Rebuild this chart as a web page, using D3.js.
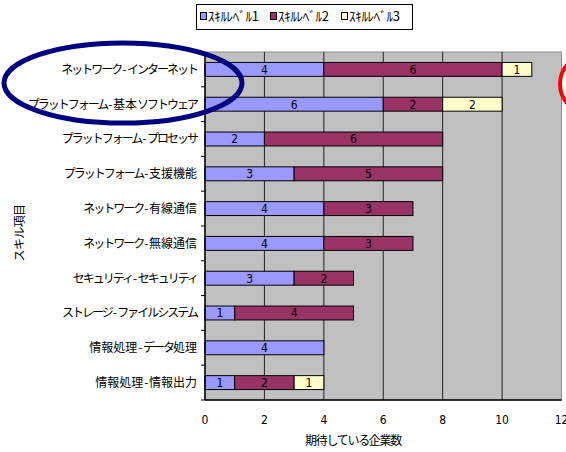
<!DOCTYPE html>
<html>
<head>
<meta charset="utf-8">
<script src="https://cdn.jsdelivr.net/npm/d3@7"></script>
<style>
  html, body { margin: 0; padding: 0; background: #fff; }
  svg { display: block; }
  .jp { font-family: "Noto Sans CJK JP", "Noto Sans", sans-serif; }
  .num { font-family: "Liberation Sans Narrow", "DejaVu Sans Condensed", "Liberation Sans", sans-serif; }
</style>
</head>
<body>
<svg id="chart" width="566" height="452"></svg>
<script>
// Skill items (top to bottom) and number of companies per skill level
const categories = [
  "ネットワーク-インターネット",
  "プラットフォーム-基本ソフトウェア",
  "プラットフォーム-プロセッサ",
  "プラットフォーム-支援機能",
  "ネットワーク-有線通信",
  "ネットワーク-無線通信",
  "セキュリティ-セキュリティ",
  "ストレージ-ファイルシステム",
  "情報処理-データ処理",
  "情報処理-情報出力"
];
const level1 = [4, 6, 2, 3, 4, 4, 3, 1, 4, 1];
const level2 = [6, 2, 6, 5, 3, 3, 2, 4, 0, 2];
const level3 = [1, 2, 0, 0, 0, 0, 0, 0, 0, 1];
const seriesNames = ["ｽｷﾙﾚﾍﾞﾙ1", "ｽｷﾙﾚﾍﾞﾙ2", "ｽｷﾙﾚﾍﾞﾙ3"];
const seriesColors = ["#9999ff", "#993366", "#ffffcc"];
const xTicks = [0, 2, 4, 6, 8, 10, 12];
const xTitle = "期待している企業数";
const yTitle = "スキル項目";

const svg = d3.select("#chart");
const plot = { left: 205, right: 561.5, top: 52, bottom: 400 };

const x = d3.scaleLinear().domain([0, 12]).range([plot.left, plot.right]);
const y = d3.scaleBand().domain(categories).range([plot.top, plot.bottom])
  .paddingInner(0.6).paddingOuter(0.3);

// plot background
svg.append("rect")
  .attr("x", plot.left).attr("y", plot.top)
  .attr("width", plot.right - plot.left).attr("height", plot.bottom - plot.top)
  .attr("fill", "#c0c0c0").attr("stroke", "#8c8c8c").attr("stroke-width", 1);

// vertical gridlines
svg.append("g").selectAll("line").data(xTicks.filter(t => t > 0 && t < 12)).join("line")
  .attr("x1", d => x(d)).attr("x2", d => x(d))
  .attr("y1", plot.top).attr("y2", plot.bottom)
  .attr("stroke", "#222").attr("stroke-width", 1);

// stacked data
const rows = categories.map((c, i) => ({ cat: c, l1: level1[i], l2: level2[i], l3: level3[i] }));
const stack = d3.stack().keys(["l1", "l2", "l3"])(rows);

stack.forEach((layer, si) => {
  const g = svg.append("g");
  layer.forEach(seg => {
    const v = seg[1] - seg[0];
    if (v <= 0) return;
    const yy = y(seg.data.cat);
    g.append("rect")
      .attr("x", x(seg[0])).attr("y", yy)
      .attr("width", x(seg[1]) - x(seg[0])).attr("height", y.bandwidth())
      .attr("fill", seriesColors[si]).attr("stroke", "#000").attr("stroke-width", 1);
    g.append("text").attr("class", "num")
      .attr("x", (x(seg[0]) + x(seg[1])) / 2).attr("y", yy + y.bandwidth() / 2)
      .attr("dy", "0.36em").attr("text-anchor", "middle")
      .attr("font-size", 12).attr("fill", "#000")
      .text(v);
  });
});

// axes lines
svg.append("line").attr("x1", plot.left).attr("x2", plot.left)
  .attr("y1", plot.top).attr("y2", plot.bottom).attr("stroke", "#000").attr("stroke-width", 1.5);
svg.append("line").attr("x1", plot.left).attr("x2", plot.right)
  .attr("y1", plot.bottom).attr("y2", plot.bottom).attr("stroke", "#000").attr("stroke-width", 1.5);

// category boundary ticks on the y axis
const step = y.step();
const bounds = d3.range(categories.length + 1).map(k => plot.top + k * step);
svg.append("g").selectAll("line").data(bounds).join("line")
  .attr("x1", plot.left - 4).attr("x2", plot.left)
  .attr("y1", d => d).attr("y2", d => d)
  .attr("stroke", "#000").attr("stroke-width", 1);

// category labels: kana set tighter than kanji, dash given a little room
function runsOf(str) {
  const runs = [];
  for (const ch of str) {
    const kind = /[\u30A0-\u30FF]/.test(ch) ? "kana" : (ch === "-" ? "dash" : "other");
    const last = runs[runs.length - 1];
    if (last && last.kind === kind) last.text += ch;
    else runs.push({ kind, text: ch });
  }
  return runs;
}
const spacing = { kana: "-2px", dash: "0.5px", other: "0px" };
svg.append("g").selectAll("text").data(categories).join("text")
  .attr("class", "jp")
  .attr("x", 197).attr("y", d => y(d) + y.bandwidth() / 2)
  .attr("dy", "0.36em").attr("text-anchor", "end")
  .attr("font-size", 12).attr("fill", "#000")
  .each(function (d) {
    const t = d3.select(this);
    runsOf(d).forEach(r => {
      t.append("tspan").attr("letter-spacing", spacing[r.kind])
        .attr("dx", r.kind === "dash" ? 1 : 0).text(r.text);
    });
  });

// x tick labels
svg.append("g").selectAll("text").data(xTicks).join("text")
  .attr("class", "num")
  .attr("x", d => x(d)).attr("y", 420).attr("dy", "0.36em")
  .attr("text-anchor", "middle").attr("font-size", 12).attr("fill", "#000")
  .text(d => d);

// axis titles
svg.append("text").attr("class", "jp")
  .attr("x", 353).attr("y", 441).attr("dy", "0.36em")
  .attr("text-anchor", "middle").attr("font-size", 12).attr("letter-spacing", "-1.3px")
  .text(xTitle);
svg.append("text").attr("class", "jp")
  .attr("transform", "translate(20,233) rotate(-90)")
  .attr("dy", "0.36em").attr("text-anchor", "middle").attr("font-size", 12)
  .attr("letter-spacing", "-0.6px")
  .text(yTitle);

// legend
const lg = svg.append("g");
lg.append("rect").attr("x", 196.5).attr("y", 4.5).attr("width", 216).attr("height", 25)
  .attr("fill", "#fff").attr("stroke", "#000").attr("stroke-width", 1);
const legendX = [200, 270, 341];
seriesNames.forEach((n, i) => {
  lg.append("rect").attr("x", legendX[i] + 0.5).attr("y", 12.5).attr("width", 6).attr("height", 7)
    .attr("fill", seriesColors[i]).attr("stroke", "#000").attr("stroke-width", 1);
  lg.append("text").attr("class", "jp")
    .attr("x", legendX[i] + 8).attr("y", 16.5).attr("dy", "0.36em")
    .attr("font-size", 13).attr("letter-spacing", "-0.3px").text(n);
});

// highlight ellipses
svg.append("ellipse").attr("cx", 123).attr("cy", 83).attr("rx", 119).attr("ry", 40)
  .attr("fill", "none").attr("stroke", "#000080").attr("stroke-width", 5);
svg.append("ellipse").attr("cx", 598).attr("cy", 84).attr("rx", 38).attr("ry", 33)
  .attr("fill", "none").attr("stroke", "#ff0000").attr("stroke-width", 4);
</script>
</body>
</html>
